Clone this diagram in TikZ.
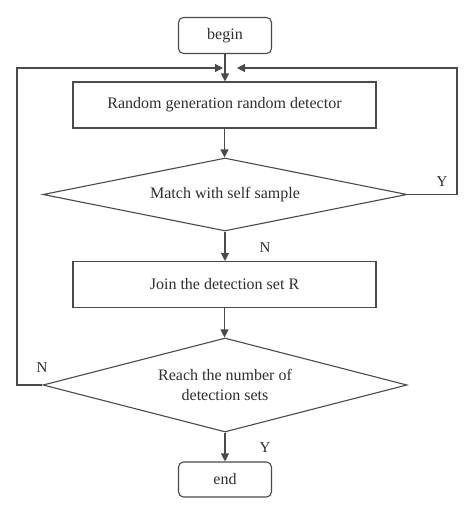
\documentclass[tikz,border=0pt]{standalone}
\usepackage{fontspec}
\setmainfont{Liberation Serif}
\usetikzlibrary{shapes.geometric,arrows.meta}
\definecolor{ln}{HTML}{4A4A4A}
\definecolor{tx}{HTML}{2E2E2E}
\tikzset{
  every node/.style={text=tx,font=\fontsize{16}{20}\selectfont},
  termbox/.style={draw=ln,line width=1.1pt,rounded corners=5pt,minimum width=93pt,minimum height=36pt,inner sep=0pt},
  procbox/.style={draw=ln,line width=1.1pt,minimum width=303pt,minimum height=46pt,inner sep=0pt},
  decbox/.style={draw=ln,line width=1.1pt,diamond,minimum width=364pt,inner sep=0pt,align=center},
  flow/.style={draw=ln,line width=1.1pt,-{Triangle[length=8pt,width=8pt]}},
  lbl/.style={font=\fontsize{15}{18}\selectfont}
}
\begin{document}
\begin{tikzpicture}[x=1pt,y=1pt]
\useasboundingbox (0,0) rectangle (474,-515);
\node[termbox] (begin) at (225,-35.5) {begin};
\node[procbox] (r1) at (224.5,-105) {Random generation random detector};
\node[decbox,shape aspect=4.99,minimum height=73pt] (d1) at (225,-194.5) {Match with self sample};
\node[procbox] (r2) at (224.5,-284.5) {Join the detection set R};
\node[decbox,shape aspect=3.87,minimum height=94pt] (d2) at (225,-385) {Reach the number of\\detection sets};
\node[termbox,minimum height=35pt] (end) at (225,-479.5) {end};
\coordinate (jl) at (223,-68);
\coordinate (jr) at (237,-68);
\draw[flow] (begin.south) -- (begin.south |- r1.north);
\draw[flow] (r1.south) -- (r1.south |- d1.north);
\draw[flow] (d1.south) -- (d1.south |- r2.north);
\draw[flow] (r2.south) -- (r2.south |- d2.north);
\draw[flow] (d2.south) -- (d2.south |- end.north);
\draw[flow] (d1.east) -- (457,-194.5) -- (457,-68) -- (jr);
\draw[flow] (d2.west) -- (17,-385) -- (17,-68) -- (jl);
\node[lbl] (y1) at (442,-182) {Y};
\node[lbl] (n1) at (265,-248) {N};
\node[lbl] (n2) at (42,-368) {N};
\node[lbl] (y2) at (265,-448) {Y};
\end{tikzpicture}
\end{document}
